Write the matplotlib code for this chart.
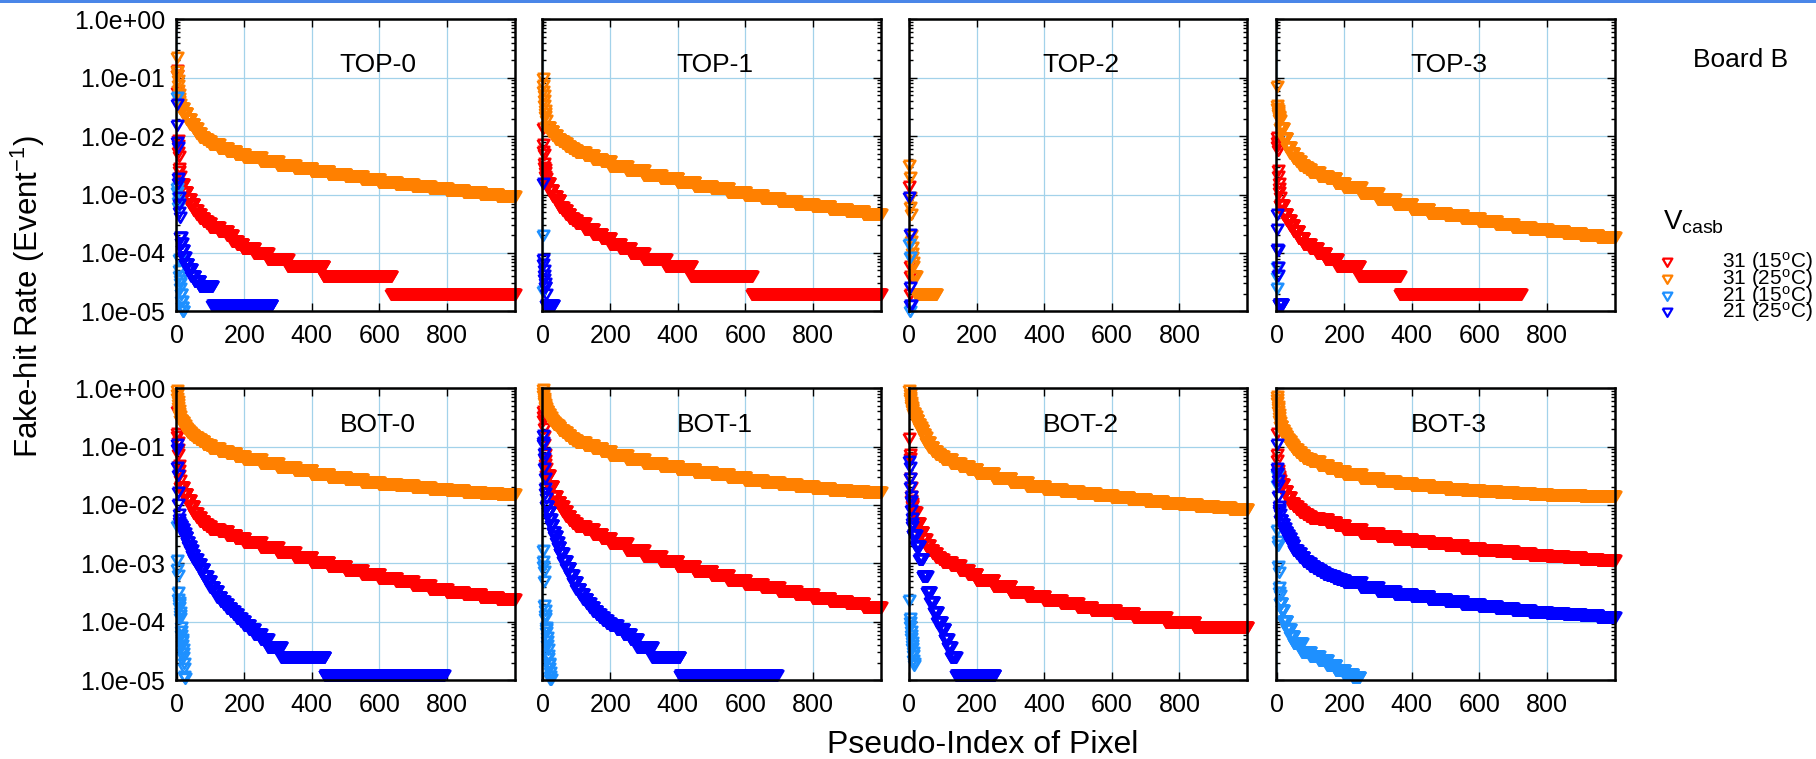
import numpy as np
import matplotlib
matplotlib.use("Agg")
import matplotlib.pyplot as plt
from matplotlib.ticker import LogLocator, NullFormatter
from matplotlib.patches import Rectangle
from matplotlib.lines import Line2D

plt.rcParams['font.family'] = ['Liberation Sans', 'DejaVu Sans']
plt.rcParams['mathtext.fontset'] = 'custom'
plt.rcParams['mathtext.rm'] = 'Liberation Sans'
plt.rcParams['mathtext.it'] = 'Liberation Sans:italic'
plt.rcParams['mathtext.bf'] = 'Liberation Sans:bold'

# Fake-hit rate per pixel, pixels sorted by decreasing rate.
# A bare number is one pixel; (rate, n) is n consecutive pixels at that rate.
TOP0_31_15 = [0.135, 0.11, 0.057, 0.0085, 0.007, 0.0054, 0.0045, 0.0028, 0.0025, 0.0021,
              (0.0015, 10), (0.0011, 10), (0.00085, 10), (0.0007, 10),
              (0.00055, 10), (0.00046, 10), (0.0004, 10), (0.00035, 10), (0.00032, 10),
              (0.00028, 25), (0.00024, 25),
              (2.0e-4, 15), (1.6e-4, 15), (1.4e-4, 15), (1.2e-4, 35), (1.0e-4, 40),
              (8e-5, 60), (6e-5, 105), (4e-5, 200), (2e-5, 366)]
TOP0_31_25 = [0.23, 0.13, 0.11, 0.09, 0.075, 0.062, 0.052, 0.045, 0.04, 0.036,
              (0.03, 10), (0.025, 10), (0.02, 10), (0.016, 10),
              (0.0135, 10), (0.0115, 10), (0.0098, 10), (0.0088, 10), (0.0082, 10),
              (0.0074, 25), (0.0063, 25), (0.0056, 25), (0.005, 25),
              (0.0044, 50), (0.0037, 50), (0.0032, 50), (0.00285, 50), (0.00255, 50), (0.00228, 50),
              (0.00205, 50), (0.00183, 50), (0.00165, 50), (0.00152, 50), (0.0014, 50), (0.00128, 50),
              (0.00119, 50), (0.00111, 50), (0.00104, 50), (0.00096, 51)]
TOP0_21_15 = [0.047, 0.0013, 0.0011, 0.0009, 0.00075, 0.00062, 8e-5, 5e-5, 4e-5, 3.5e-5,
              3e-5, 2.5e-5, 2e-5, 2e-5, 1.5e-5, 1.5e-5, 1.2e-5, 1.2e-5, 1e-5, 1e-5]
TOP0_21_25 = [0.036, 0.0155, 0.008, 0.0066, 0.0019, 0.0016, 0.0009, 0.0007, 0.0005, 0.00042,
              (1.9e-4, 3), (1.45e-4, 3), (1.1e-4, 4), (8.5e-5, 5), (6.5e-5, 8), (5.3e-5, 10),
              (4e-5, 10), (3.3e-5, 15), (2.7e-5, 38), (1.3e-5, 175)]

TOP1_31_15 = [0.014, 0.0074, 0.0056, 0.005, 0.0034, 0.003, 0.0027, 0.0024, 0.0021, 0.0019,
              (0.0016, 10), (0.0012, 10), (0.00095, 10), (0.0008, 10),
              (0.00062, 10), (0.00054, 10), (0.00046, 10), (0.0004, 10), (0.00037, 10),
              (0.00033, 25), (0.00026, 25), (0.00021, 25), (0.00018, 25),
              (1.4e-4, 30), (1.2e-4, 30), (1.0e-4, 40), (8e-5, 65), (6e-5, 75), (4e-5, 180), (2e-5, 381)]
TOP1_31_25 = [0.1, 0.075, 0.06, 0.05, 0.041, 0.034, 0.028, 0.025, 0.022, 0.019,
              (0.0145, 10), (0.0122, 10), (0.0104, 10), (0.009, 10),
              (0.0082, 10), (0.0075, 10), (0.0068, 10), (0.0063, 10), (0.0058, 10),
              (0.0053, 25), (0.0047, 25), (0.0041, 25), (0.0037, 25),
              (0.0031, 50), (0.0026, 50), (0.0022, 50), (0.0019, 50), (0.00162, 50), (0.00142, 50),
              (0.00127, 50), (0.00112, 50), (0.00098, 50), (0.00088, 50), (0.00078, 50), (0.0007, 50),
              (0.00063, 50), (0.00057, 50), (0.00052, 50), (0.00047, 51)]
TOP1_21_15 = [2e-4, 2.2e-5]
TOP1_21_25 = [0.00156, 8e-5, 6.5e-5, 5e-5, 4.2e-5, 3.6e-5, 3e-5, 2.6e-5, 2.6e-5, 2e-5, (1.3e-5, 22)]

TOP2_31_15 = [0.0014, 6e-5, 4e-5, 2e-5]
TOP2_31_25 = [0.0032, 0.002, 0.0009, 0.0006, 0.00047, 0.0002, 0.00016, 0.000126, 0.0001, 8.5e-5,
              7e-5, 6e-5, (4e-5, 8), (2e-5, 60)]
TOP2_21_15 = [1.4e-4, 8.5e-5, 1e-5]
TOP2_21_25 = [9e-4, 2.1e-4, 2.6e-5, 1.3e-5, 1.3e-5]

TOP3_31_15 = [0.0098, 0.008, 0.0068, 0.0058, 0.0026, 0.0021, 0.0016, 0.0013, 0.0011, 0.0009,
              (0.00065, 10), (0.00046, 10), (0.00036, 10), (0.0003, 10),
              (0.00024, 15), (0.00018, 15), (1.4e-4, 20), (1.2e-4, 20), (1.0e-4, 25), (8e-5, 35),
              (6e-5, 65), (4e-5, 120), (2e-5, 358)]
TOP3_31_25 = [0.072, 0.034, 0.03, 0.028, 0.026, 0.024, 0.022, 0.021, 0.02, 0.019,
              (0.014, 10), (0.0092, 10), (0.0066, 10), (0.0051, 10),
              (0.0043, 10), (0.0037, 10), (0.0032, 10), (0.0029, 10), (0.0027, 10),
              (0.0024, 25), (0.0021, 25), (0.0019, 25), (0.0016, 25),
              (0.00135, 50), (0.00105, 50), (0.00083, 50), (0.00068, 50), (0.00057, 50), (0.00049, 50),
              (0.00044, 50), (0.00039, 50), (0.00035, 50), (0.00031, 50), (0.00028, 50), (0.00026, 50),
              (0.00024, 50), (0.00022, 50), (0.0002, 50), (0.000185, 51)]
TOP3_21_15 = [5.8e-5, 3.8e-5, 2.5e-5]
TOP3_21_25 = [0.00047, 0.00026, 0.000117, 0.00011, 5.8e-5, 4.2e-5, (1.35e-5, 12)]

BOT0_31_15 = [0.41, 0.17, 0.15, 0.12, 0.09, 0.075, 0.049, 0.04, 0.033, 0.027,
              (0.02, 10), (0.0155, 10), (0.012, 10), (0.0095, 10),
              (0.0074, 10), (0.0063, 10), (0.0054, 10), (0.0048, 10), (0.0043, 10),
              (0.0039, 25), (0.0036, 25), (0.0031, 25), (0.0027, 25),
              (0.0023, 50), (0.0019, 50), (0.00155, 50), (0.0013, 50), (0.00105, 50), (0.0009, 50),
              (0.00077, 50), (0.00066, 50), (0.00057, 50), (0.00049, 50), (0.00042, 50), (0.00037, 50),
              (0.00033, 50), (0.0003, 50), (0.00027, 50), (0.00025, 51)]
BOT0_31_25 = [0.95, 0.8, 0.68, 0.6, 0.53, 0.47, 0.42, 0.38, 0.35, 0.33,
              (0.29, 5), (0.26, 5), (0.23, 5), (0.21, 5), (0.19, 5), (0.18, 5), (0.165, 5), (0.155, 5),
              (0.147, 10), (0.135, 10), (0.123, 10), (0.113, 10), (0.105, 10),
              (0.096, 25), (0.085, 25), (0.077, 25), (0.07, 25),
              (0.061, 50), (0.052, 50), (0.045, 50), (0.039, 50), (0.034, 50), (0.0305, 50),
              (0.028, 50), (0.0252, 50), (0.023, 50), (0.0216, 50), (0.0203, 50), (0.019, 50),
              (0.0178, 50), (0.017, 50), (0.0162, 50), (0.0154, 51)]
BOT0_21_15 = [0.0043, 0.00115, 0.0008, 0.00063, 0.00033, 0.00025, 0.00022, 0.0002, 0.00018, 0.00015,
              0.00013, 0.000115, 8e-5, 7e-5, 6e-5, 5e-5, 4.6e-5, 4e-5, 3.4e-5, 2.9e-5,
              2.5e-5, 2e-5, 1.6e-5, 1.2e-5, 1.07e-5]
BOT0_21_25 = [0.11, 0.09, 0.044, 0.033, 0.017, 0.0102, 0.0069, 0.0058, 0.0052, 0.0048,
              (0.0044, 5), (0.0039, 5), (0.0033, 5), (0.0028, 5), (0.0023, 5), (0.002, 5),
              (0.0017, 5), (0.0014, 5),
              (0.0012, 10), (0.00098, 10), (0.0008, 10), (0.00062, 10), (0.0005, 10),
              (0.0004, 10), (0.00034, 10), (0.00027, 10), (0.00023, 10), (0.0002, 10),
              (0.00017, 10), (0.000152, 10), (0.000134, 10), (0.000118, 10), (0.000105, 10),
              (8.75e-5, 15), (7.5e-5, 15), (6.25e-5, 20), (5e-5, 20), (3.75e-5, 40),
              (2.5e-5, 128), (1.25e-5, 353)]

BOT1_31_15 = [0.41, 0.33, 0.28, 0.21, 0.15, 0.11, 0.074, 0.06, 0.05, 0.043,
              (0.032, 10), (0.021, 10), (0.0145, 10), (0.0113, 10),
              (0.0095, 10), (0.008, 10), (0.0066, 10), (0.0055, 10), (0.0049, 10),
              (0.0044, 25), (0.0039, 25), (0.0032, 25), (0.0027, 25),
              (0.00225, 50), (0.0017, 50), (0.00135, 50), (0.0011, 50), (0.0009, 50), (0.00075, 50),
              (0.00063, 50), (0.00053, 50), (0.00045, 50), (0.00039, 50), (0.00034, 50), (0.0003, 50),
              (0.00026, 50), (0.00023, 50), (0.00021, 50), (0.00018, 51)]
BOT1_31_25 = [0.98, 0.85, 0.75, 0.68, 0.62, 0.57, 0.53, 0.5, 0.47, 0.45,
              (0.41, 5), (0.36, 5), (0.32, 5), (0.29, 5), (0.265, 5), (0.245, 5), (0.23, 5), (0.215, 5),
              (0.195, 10), (0.175, 10), (0.157, 10), (0.142, 10), (0.132, 10),
              (0.12, 25), (0.105, 25), (0.093, 25), (0.083, 25),
              (0.072, 50), (0.061, 50), (0.052, 50), (0.046, 50), (0.041, 50), (0.037, 50),
              (0.0335, 50), (0.03, 50), (0.027, 50), (0.025, 50), (0.023, 50), (0.0214, 50),
              (0.0198, 50), (0.0184, 50), (0.0175, 50), (0.0165, 51)]
BOT1_21_15 = [0.0017, 0.00108, 0.0009, 0.00073, 0.00049, 0.000195, 0.00016, 0.00013, 0.000115, 8.3e-5,
              7.5e-5, 6.8e-5, 5.5e-5, 4.6e-5, 4e-5, 3.4e-5, 2.7e-5, 2.4e-5, 2e-5, 1.9e-5,
              1.6e-5, 1.4e-5, 1.2e-5, 1.05e-5, 1.05e-5]
BOT1_21_25 = [0.16, 0.12, 0.11, 0.079, 0.065, 0.043, 0.029, 0.0195, 0.016, 0.013,
              (0.0095, 5), (0.0075, 5), (0.0058, 5), (0.0045, 5), (0.0034, 5), (0.0029, 5),
              (0.0023, 5), (0.0019, 5),
              (0.0015, 10), (0.0011, 10), (0.00085, 10), (0.00063, 10), (0.00048, 10),
              (0.00036, 10), (0.0003, 10), (0.00025, 10), (0.00021, 10), (0.00018, 10),
              (0.000155, 10), (0.000138, 10), (0.000122, 10), (0.000108, 10), (9.6e-5, 10),
              (8.75e-5, 20), (7.5e-5, 20), (6.25e-5, 20), (5e-5, 20), (3.75e-5, 45),
              (2.5e-5, 81), (1.25e-5, 288)]

BOT2_31_15 = [0.14, 0.074, 0.065, 0.029, 0.02, 0.014, 0.012, 0.011, 0.01, 0.0095,
              (0.0075, 10), (0.005, 10), (0.0035, 10), (0.0026, 10),
              (0.0021, 10), (0.0017, 10), (0.0015, 10), (0.0013, 10), (0.0012, 10),
              (0.00105, 25), (0.00095, 25), (0.00078, 25), (0.00066, 25),
              (0.00052, 50), (0.00041, 50), (0.00033, 50), (0.00028, 50), (0.00024, 50), (0.00021, 50),
              (1.8e-4, 40), (1.6e-4, 70), (1.4e-4, 55), (1.2e-4, 95), (1.0e-4, 85), (8e-5, 156)]
BOT2_31_25 = [0.92, 0.8, 0.72, 0.65, 0.59, 0.53, 0.5, 0.47, 0.44, 0.42,
              (0.38, 5), (0.33, 5), (0.28, 5), (0.245, 5), (0.215, 5), (0.19, 5), (0.165, 5), (0.145, 5),
              (0.118, 10), (0.098, 10), (0.084, 10), (0.074, 10), (0.068, 10),
              (0.061, 25), (0.052, 25), (0.046, 25), (0.041, 25),
              (0.035, 50), (0.0285, 50), (0.0245, 50), (0.0215, 50), (0.019, 50), (0.0173, 50),
              (0.0161, 50), (0.0147, 50), (0.0135, 50), (0.0125, 50), (0.0116, 50), (0.0109, 50),
              (0.0102, 50), (0.0097, 50), (0.0091, 50), (0.0087, 51)]
BOT2_21_15 = [0.00024, 0.000115, 0.0001, 8.5e-5, 7e-5, 6e-5, 5.2e-5, 4.5e-5, 4e-5, 3.5e-5,
              3e-5, 2.7e-5, 2.2e-5, 2e-5, 1.8e-5]
BOT2_21_25 = [0.056, 0.044, 0.029, 0.02, 0.014, 0.0115, 0.0083, 0.006, 0.005, 0.0043,
              (0.0031, 10), (0.002, 10), (0.0012, 10), (0.0006, 13), (0.00033, 10), (0.00022, 10),
              (0.00015, 10), (0.0001, 12), (7.5e-5, 10), (5e-5, 10), (3.75e-5, 9),
              (2.5e-5, 15), (1.25e-5, 114)]

BOT3_31_15 = [0.17, 0.074, 0.06, 0.04, 0.035, 0.033, 0.031, 0.029, 0.028, 0.027,
              (0.023, 10), (0.0175, 10), (0.0135, 10), (0.011, 10),
              (0.0097, 10), (0.0085, 10), (0.0076, 10), (0.0069, 10), (0.0064, 10),
              (0.0061, 25), (0.0057, 25), (0.0051, 25), (0.0046, 25),
              (0.0039, 50), (0.0033, 50), (0.0029, 50), (0.0026, 50), (0.0024, 50), (0.0022, 50),
              (0.00203, 50), (0.00187, 50), (0.00172, 50), (0.0016, 50), (0.0015, 50), (0.00141, 50),
              (0.00134, 50), (0.00127, 50), (0.0012, 50), (0.00115, 51)]
BOT3_31_25 = [0.74, 0.65, 0.57, 0.5, 0.45, 0.41, 0.36, 0.32, 0.28, 0.26,
              (0.225, 5), (0.195, 5), (0.17, 5), (0.15, 5), (0.135, 5), (0.125, 5), (0.113, 5), (0.104, 5),
              (0.092, 10), (0.08, 10), (0.072, 10), (0.065, 10), (0.061, 10),
              (0.056, 25), (0.048, 25), (0.0425, 25), (0.038, 25),
              (0.0335, 50), (0.029, 50), (0.026, 50), (0.0235, 50), (0.0216, 50), (0.02, 50),
              (0.019, 50), (0.018, 50), (0.0172, 50), (0.0166, 50), (0.016, 50), (0.0155, 50),
              (0.015, 50), (0.0146, 50), (0.0143, 50), (0.014, 51)]
BOT3_21_15 = [0.033, 0.022, 0.0038, 0.0024, 0.0021, 0.00089, 0.00072, 0.0004, 0.00033, 0.00029,
              (0.00021, 5), (0.00016, 5), (0.000105, 10), (7.5e-5, 10), (5.7e-5, 10),
              (4.3e-5, 25), (3.1e-5, 25), (2.6e-5, 25), (2.2e-5, 25), (1.8e-5, 25),
              (1.5e-5, 25), (1.3e-5, 25), (1.15e-5, 21)]
BOT3_21_25 = [0.11, 0.043, 0.036, 0.027, 0.022, 0.014, 0.0095, 0.0085, 0.0078, 0.007,
              (0.0056, 5), (0.0047, 5), (0.0041, 5), (0.0035, 5), (0.0031, 5), (0.0027, 5),
              (0.0023, 5), (0.0021, 5),
              (0.0017, 10), (0.0015, 10), (0.0013, 10), (0.0011, 10), (0.001, 10),
              (0.00091, 10), (0.00084, 10), (0.00077, 10), (0.00072, 10), (0.00067, 10),
              (0.00063, 10), (0.0006, 10), (0.00057, 10), (0.00054, 10), (0.00051, 10),
              (0.00048, 50), (0.0004, 50), (0.00034, 50), (0.000305, 50), (0.000275, 50), (0.00025, 50),
              (0.000228, 50), (0.000205, 50), (0.00019, 50), (0.000174, 50), (0.00016, 50), (0.00015, 50),
              (0.000142, 50), (0.000135, 50), (0.000129, 50), (0.000123, 51)]

PANEL_NAMES = ['TOP-0', 'TOP-1', 'TOP-2', 'TOP-3', 'BOT-0', 'BOT-1', 'BOT-2', 'BOT-3']
PANEL_SERIES = [
    [TOP0_31_15, TOP0_31_25, TOP0_21_15, TOP0_21_25],
    [TOP1_31_15, TOP1_31_25, TOP1_21_15, TOP1_21_25],
    [TOP2_31_15, TOP2_31_25, TOP2_21_15, TOP2_21_25],
    [TOP3_31_15, TOP3_31_25, TOP3_21_15, TOP3_21_25],
    [BOT0_31_15, BOT0_31_25, BOT0_21_15, BOT0_21_25],
    [BOT1_31_15, BOT1_31_25, BOT1_21_15, BOT1_21_25],
    [BOT2_31_15, BOT2_31_25, BOT2_21_15, BOT2_21_25],
    [BOT3_31_15, BOT3_31_25, BOT3_21_15, BOT3_21_25],
]
SERIES_LABELS = ['31 (15$^{\\rm o}$C)', '31 (25$^{\\rm o}$C)', '21 (15$^{\\rm o}$C)', '21 (25$^{\\rm o}$C)']
SERIES_COLORS = ['#ff0000', '#ff8000', '#1e90ff', '#0000ff']
X_TICKS = [0, 200, 400, 600, 800]
Y_TICKS = [1e-5, 1e-4, 1e-3, 1e-2, 1e-1, 1e0]
Y_TICK_LABELS = ['1.0e-05', '1.0e-04', '1.0e-03', '1.0e-02', '1.0e-01', '1.0e+00']


def expand(runs):
    rates, counts = [], []
    for item in runs:
        r, n = item if isinstance(item, tuple) else (item, 1)
        rates.append(r)
        counts.append(n)
    return np.repeat(rates, counts)


# open downward triangle, a little wider than tall
TRI = [(-1.0, 0.8), (1.0, 0.8), (0.0, -0.9), (-1.0, 0.8)]
MS, MEW = 8.4, 1.9

W, H = 1816, 759
fig = plt.figure(figsize=(W / 100, H / 100), dpi=100)
fig.patches.append(Rectangle((0, 1 - 3 / H), 1, 3 / H, transform=fig.transFigure,
                             facecolor='#4a86e8', edgecolor='none'))

col_left = [176, 542, 908.5, 1276]
row_top = [19.3, 388.2]
pw, ph = 338.5, 292

for k, (name, series) in enumerate(zip(PANEL_NAMES, PANEL_SERIES)):
    row, col = divmod(k, 4)
    ax = fig.add_axes([col_left[col] / W, 1 - (row_top[row] + ph) / H, pw / W, ph / H])
    ax.set_yscale('log')
    ax.set_xlim(-2, 1000)
    ax.set_ylim(1e-5, 1.0)
    ax.set_axisbelow(True)
    ax.grid(True, which='major', color='#a3d2ea', lw=0.9)
    for runs, color in zip(series, SERIES_COLORS):
        y = expand(runs)
        x = np.arange(len(y))
        ax.plot(x, y, ls='none', marker=TRI, ms=MS, mfc='none', mec=color, mew=MEW,
                clip_on=False, zorder=3)
    ax.set_xticks(X_TICKS)
    ax.set_xticklabels([str(t) for t in X_TICKS])
    ax.set_yticks(Y_TICKS)
    ax.yaxis.set_minor_locator(LogLocator(base=10, subs=np.arange(2, 10), numticks=20))
    ax.yaxis.set_minor_formatter(NullFormatter())
    if col == 0:
        ax.set_yticklabels(Y_TICK_LABELS)
    else:
        ax.set_yticklabels([])
    ax.tick_params(which='both', direction='in', top=True, right=True, width=1.0, color='black')
    ax.tick_params(which='major', length=5.5, labelsize=18)
    ax.tick_params(which='minor', length=3)
    ax.tick_params(axis='x', pad=9)
    ax.tick_params(axis='y', pad=8)
    for sp in ax.spines.values():
        sp.set_linewidth(1.8)
        sp.set_zorder(4)
    tx = 0.597 if col == 0 else 0.51
    ty = 0.845 if row == 0 else 0.873
    ax.text(tx, ty, name, transform=ax.transAxes, ha='center', va='center', fontsize=19)

# overlay in pixel coordinates for the free-standing labels and legend
ov = fig.add_axes([0, 0, 1, 1], facecolor='none')
ov.set_xlim(0, W)
ov.set_ylim(H, 0)
ov.axis('off')

ov.text(983, 753, 'Pseudo-Index of Pixel', ha='center', va='baseline', fontsize=23)
ov.text(28, 296, 'Fake-hit Rate (Event$^{-1}$)', ha='center', va='center',
        rotation=90, fontsize=22.5)
ov.text(1741, 60, 'Board B', ha='center', va='center', fontsize=19)
ov.text(1663, 230, 'V$_{\\rm casb}$', ha='left', va='baseline', fontsize=20)

leg_y = [262, 279, 296, 312]
for label, color, yy in zip(SERIES_LABELS, SERIES_COLORS, leg_y):
    ov.add_line(Line2D([1667], [yy], ls='none', marker=TRI, ms=7, mfc='none', mec=color, mew=1.6))
    ov.text(1813, yy, label, ha='right', va='center', fontsize=15)

fig.savefig('out.png', dpi=100)
